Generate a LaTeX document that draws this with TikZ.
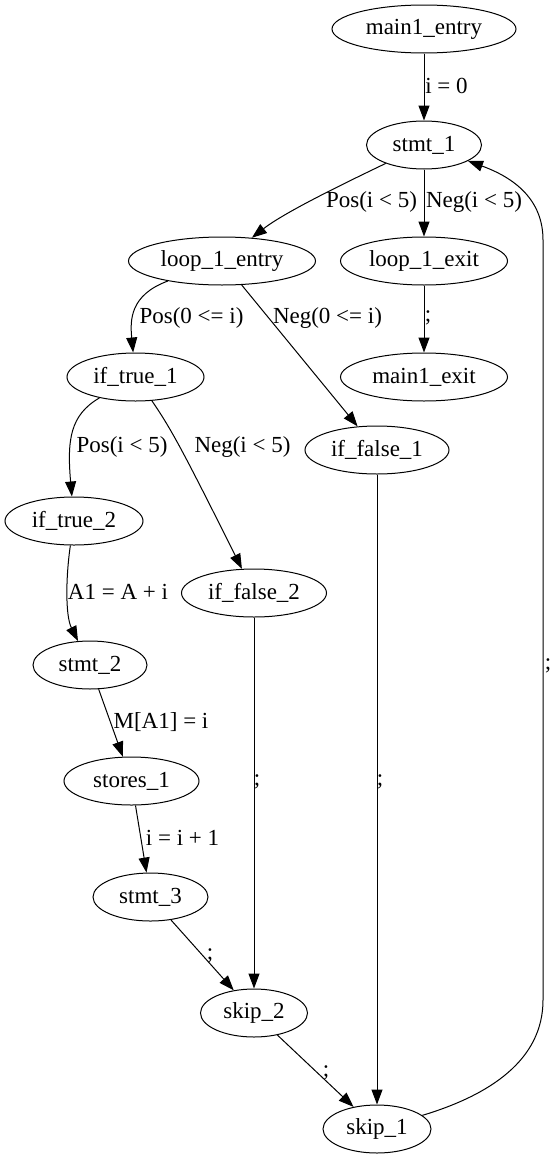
\documentclass[tikz,border=0pt]{standalone}
\usepackage{fontspec}
\setmainfont{Liberation Serif}
\usetikzlibrary{shapes.geometric,arrows.meta}
\begin{document}
\begin{tikzpicture}[x=1pt,y=-1pt,
  nd/.style={draw,ellipse,minimum height=48pt,inner sep=0pt,line width=1pt},
  lab/.style={inner sep=0pt},
  edge/.style={-{Triangle[length=15pt,width=11pt]},line width=1pt},
  font=\fontsize{23}{27}\selectfont]
\useasboundingbox (0,0) rectangle (554,1159);
% nodes
\node[nd,minimum width=184pt] (main1_entry) at (424,29) {main1\_entry};
\node[nd,minimum width=115pt] (stmt_1) at (424,145) {stmt\_1};
\node[nd,minimum width=187pt] (loop_1_entry) at (222,261) {loop\_1\_entry};
\node[nd,minimum width=167pt] (loop_1_exit) at (424,261) {loop\_1\_exit};
\node[nd,minimum width=137pt] (if_true_1) at (135.5,377) {if\_true\_1};
\node[nd,minimum width=167pt] (main1_exit) at (424,377) {main1\_exit};
\node[nd,minimum width=144pt] (if_false_1) at (377,450) {if\_false\_1};
\node[nd,minimum width=138pt] (if_true_2) at (74,521) {if\_true\_2};
\node[nd,minimum width=145pt] (if_false_2) at (254,593) {if\_false\_2};
\node[nd,minimum width=114pt] (stmt_2) at (90,665) {stmt\_2};
\node[nd,minimum width=135pt] (stores_1) at (131.5,781) {stores\_1};
\node[nd,minimum width=115pt] (stmt_3) at (150.5,897) {stmt\_3};
\node[nd,minimum width=107pt] (skip_2) at (254,1013) {skip\_2};
\node[nd,minimum width=108pt] (skip_1) at (377,1129) {skip\_1};
% edges
\draw[edge] (main1_entry) -- (stmt_1);
\draw[edge] (stmt_1) .. controls (345,183) and (285,212) .. (loop_1_entry);
\draw[edge] (stmt_1) -- (loop_1_exit);
\draw[edge] (loop_1_entry) .. controls (130,295) and (130,320) .. (if_true_1);
\draw[edge] (loop_1_entry) -- (if_false_1);
\draw[edge] (loop_1_exit) -- (main1_exit);
\draw[edge] (if_true_1) .. controls (70,415) and (67,440) .. (if_true_2);
\draw[edge] (if_true_1) .. controls (172,430) and (185,455) .. (if_false_2);
\draw[edge] (if_true_2) .. controls (66,575) and (65,615) .. (stmt_2);
\draw[edge] (stmt_2) -- (stores_1);
\draw[edge] (stores_1) -- (stmt_3);
\draw[edge] (stmt_3) -- (skip_2);
\draw[edge] (if_false_2) -- (skip_2);
\draw[edge] (if_false_1) -- (skip_1);
\draw[edge] (skip_2) -- (skip_1);
\coordinate (r1) at (543,1000);
\coordinate (r2) at (543,240);
\draw[edge] (skip_1) .. controls (490,1095) and (543,1060) .. (r1) -- (r2) .. controls (543,200) and (515,178) .. (stmt_1);
% labels
\node[lab] (l1) at (446.5,86) {i = 0};
\node[lab] (l2) at (371.5,202) {Pos(i < 5)};
\node[lab] (l3) at (474,202) {Neg(i < 5)};
\node[lab] (l4) at (191.5,318) {Pos(0 <= i)};
\node[lab] (l5) at (327.5,318) {Neg(0 <= i)};
\node[lab] (l6) at (428,318) {;};
\node[lab] (l7) at (122,447) {Pos(i < 5)};
\node[lab] (l8) at (242.5,447) {Neg(i < 5)};
\node[lab] (l9) at (118,592) {A1 = A + i};
\node[lab] (l10) at (161,722) {M[A1] = i};
\node[lab] (l11) at (182.5,838) {i = i + 1};
\node[lab] (l12) at (210,956) {;};
\node[lab] (l13) at (257,782) {;};
\node[lab] (l14) at (380,782) {;};
\node[lab] (l15) at (326,1073) {;};
\node[lab] (l16) at (548,666) {;};
\end{tikzpicture}
\end{document}
